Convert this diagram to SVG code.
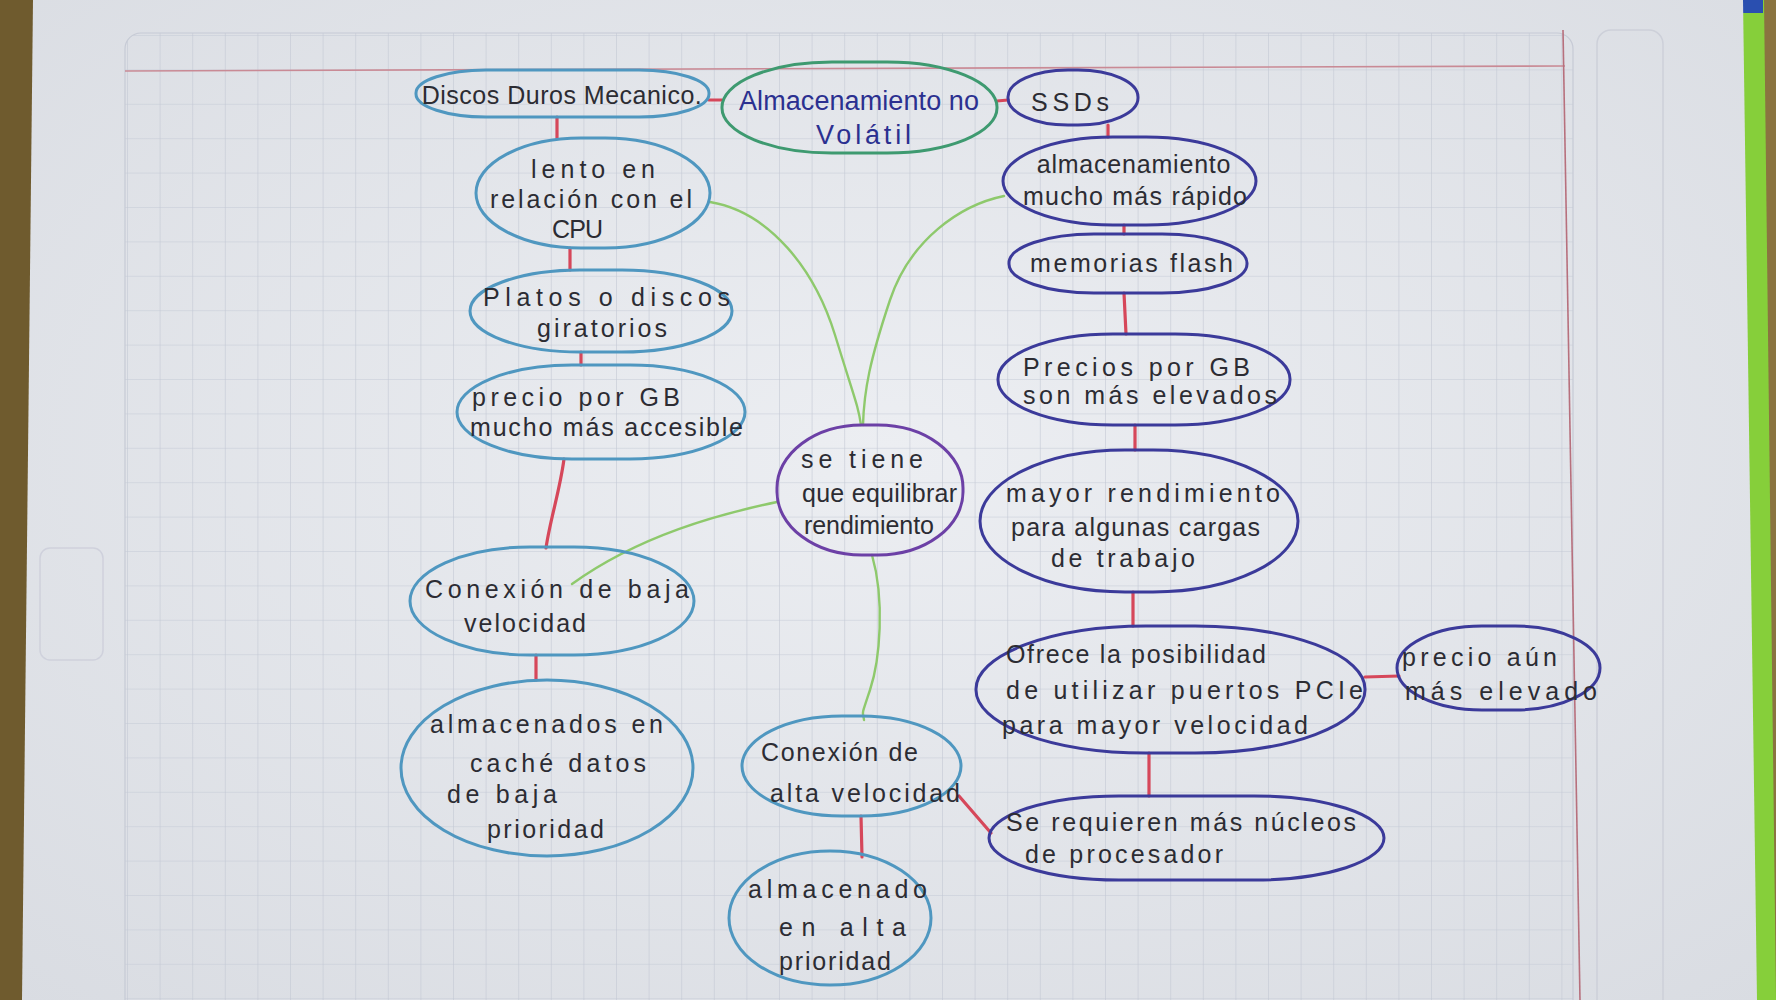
<svg xmlns="http://www.w3.org/2000/svg" width="1776" height="1000" viewBox="0 0 1776 1000">
<defs>
  <radialGradient id="paperGrad" cx="50%" cy="45%" r="75%">
    <stop offset="0" stop-color="#eceef2"/>
    <stop offset="1" stop-color="#d9dce2"/>
  </radialGradient>
  <pattern id="grid" x="127" y="35" width="32.6" height="34.4" patternUnits="userSpaceOnUse">
    <path d="M0,0 H32.6 M0,0 V34.4" fill="none" stroke="#c4c9d5" stroke-width="1.2"/>
  </pattern>
  <clipPath id="gridClip">
    <rect x="125" y="33" width="1448" height="990" rx="16"/>
  </clipPath>
</defs>
<style>
  .node { fill: none; stroke-width: 3; }
  .blue { stroke: #4f97c0; }
  .dblue { stroke: #3b3a9a; }
  .purple { stroke: #6c40a6; }
  .green { stroke: #3e9a70; }
  .red { stroke: #d6475a; stroke-width: 3.2; fill: none; stroke-linecap: round; }
  .lg { stroke: #8ec96c; stroke-width: 2.4; fill: none; stroke-linecap: round; }
  text { font-family: "Liberation Sans", "DejaVu Sans", sans-serif; fill: #2c2c33; font-size: 25px; }
  .title { fill: #2b3090; font-size: 27px; }
  .mid { text-anchor: middle; }
</style>

<!-- background: table, paper, grid -->
<rect x="0" y="0" width="1776" height="1000" fill="#6f5b2e"/>
<polygon points="1740,0 1776,0 1776,1000 1754,1000" fill="#86cf3a"/>
<rect x="1741" y="0" width="22" height="13" fill="#2a4fb0"/>
<polygon points="1764,0 1776,0 1776,1000" fill="#8a7440"/>
<polygon points="33,0 1743,0 1757,1000 22,1000" fill="url(#paperGrad)"/>
<rect x="125" y="33" width="1448" height="990" rx="16" fill="url(#grid)" clip-path="url(#gridClip)"/>
<rect x="125" y="33" width="1448" height="990" rx="16" fill="none" stroke="#c6cad5" stroke-width="1.2"/>
<line x1="125" y1="71" x2="1565" y2="66" stroke="#c98a95" stroke-width="1.6"/>
<line x1="1563" y1="30" x2="1580" y2="1000" stroke="#b7707d" stroke-width="1.6"/>
<rect x="1597" y="30" width="66" height="990" rx="14" fill="none" stroke="#cdd0d9" stroke-width="1.5"/>
<rect x="40" y="548" width="63" height="112" rx="10" fill="none" stroke="#cfd1dc" stroke-width="1.5"/>

<!-- connectors -->
<g id="connectors">
  <line class="red" x1="709" y1="100" x2="722" y2="100"/>
  <line class="red" x1="997" y1="101" x2="1008" y2="100"/>
  <line class="red" x1="557" y1="117" x2="557" y2="138"/>
  <line class="red" x1="570" y1="248" x2="570" y2="270"/>
  <line class="red" x1="581" y1="352" x2="581" y2="365"/>
  <path class="red" d="M564,459 C560,490 550,520 546,548"/>
  <line class="red" x1="536" y1="655" x2="536" y2="680"/>
  <line class="red" x1="1108" y1="125" x2="1108" y2="137"/>
  <line class="red" x1="1124" y1="225" x2="1124" y2="234"/>
  <line class="red" x1="1124" y1="293" x2="1126" y2="334"/>
  <line class="red" x1="1135" y1="425" x2="1135" y2="450"/>
  <line class="red" x1="1133" y1="592" x2="1133" y2="626"/>
  <line class="red" x1="1149" y1="753" x2="1149" y2="796"/>
  <line class="red" x1="1365" y1="677" x2="1399" y2="676"/>
  <line class="red" x1="959" y1="796" x2="991" y2="833"/>
  <line class="red" x1="861" y1="816" x2="862" y2="857"/>
  <path class="lg" d="M710,202 C770,212 815,270 835,335 S858,405 861,425"/>
  <path class="lg" d="M1004,196 C960,205 910,240 890,300 S864,390 863,425"/>
  <path class="lg" d="M777,502 C720,514 640,535 572,584"/>
  <path class="lg" d="M872,555 C885,600 880,660 870,690 S863,710 864,720"/>
</g>

<!-- nodes -->
<g id="discos">
  <rect class="node blue" x="416" y="70" width="293" height="47" rx="70" ry="23"/>
  <text class="mid" x="562" y="104" font-size="20" letter-spacing="0.5">Discos Duros Mecanico.</text>
</g>
<g id="almacenamiento">
  <rect class="node green" x="722" y="62" width="275" height="91" rx="110" ry="45"/>
  <text class="title" x="739" y="110" textLength="240">Almacenamiento no</text>
  <text class="title" x="816" y="144" textLength="95">Volátil</text>
</g>
<g id="ssds">
  <rect class="node dblue" x="1008" y="70" width="130" height="55" rx="60" ry="27"/>
  <text x="1031" y="111" font-size="30" textLength="78">SSDs</text>
</g>
<g id="lento">
  <rect class="node blue" x="476" y="138" width="234" height="110" rx="105" ry="55"/>
  <text x="531" y="178" textLength="124">lento en</text>
  <text x="490" y="208" textLength="202">relación con el</text>
  <text x="552" y="238" textLength="51">CPU</text>
</g>
<g id="platos">
  <rect class="node blue" x="470" y="270" width="262" height="82" rx="110" ry="41"/>
  <text x="483" y="306" font-size="28" textLength="247">Platos o discos</text>
  <text x="537" y="337" font-size="28" textLength="130">giratorios</text>
</g>
<g id="precio-gb">
  <rect class="node blue" x="457" y="365" width="288" height="94" rx="115" ry="47"/>
  <text x="472" y="406" textLength="208">precio por GB</text>
  <text x="470" y="436" textLength="273">mucho más accesible</text>
</g>
<g id="conexion-baja">
  <rect class="node blue" x="410" y="547" width="284" height="108" rx="120" ry="54"/>
  <text x="425" y="598" font-size="27" textLength="264">Conexión de baja</text>
  <text x="464" y="632" font-size="27" textLength="122">velocidad</text>
</g>
<g id="almacenados-cache">
  <ellipse class="node blue" cx="547" cy="768" rx="146" ry="88"/>
  <text x="430" y="733" textLength="233">almacenados en</text>
  <text x="470" y="772" textLength="176">caché datos</text>
  <text x="447" y="803" textLength="110">de baja</text>
  <text x="487" y="838" textLength="117">prioridad</text>
</g>
<g id="equilibrar">
  <rect class="node purple" x="777" y="425" width="186" height="130" rx="85" ry="63"/>
  <text x="801" y="468" font-size="22" textLength="122">se tiene</text>
  <text x="802" y="502" font-size="20" textLength="155">que equilibrar</text>
  <text x="804" y="534" font-size="20" textLength="130">rendimiento</text>
</g>
<g id="conexion-alta">
  <rect class="node blue" x="742" y="716" width="219" height="100" rx="100" ry="50"/>
  <text x="761" y="761" font-size="26" textLength="157">Conexión de</text>
  <text x="770" y="802" font-size="26" textLength="190">alta velocidad</text>
</g>
<g id="almacenado-alta">
  <ellipse class="node blue" cx="830" cy="918" rx="101" ry="67"/>
  <text x="748" y="898" font-size="26" textLength="179">almacenado</text>
  <text x="779" y="936" font-size="26" textLength="127">en alta</text>
  <text x="779" y="970" font-size="26" textLength="112">prioridad</text>
</g>
<g id="rapido">
  <rect class="node dblue" x="1003" y="137" width="253" height="88" rx="110" ry="44"/>
  <text class="mid" x="1134" y="173" font-size="22" letter-spacing="0.8">almacenamiento</text>
  <text x="1023" y="205" font-size="24" textLength="224">mucho más rápido</text>
</g>
<g id="flash">
  <rect class="node dblue" x="1009" y="234" width="238" height="59" rx="85" ry="29"/>
  <text x="1030" y="272" font-size="27" textLength="203">memorias flash</text>
</g>
<g id="precios-elevados">
  <rect class="node dblue" x="998" y="334" width="292" height="91" rx="115" ry="45"/>
  <text x="1023" y="376" font-size="26" textLength="227">Precios por GB</text>
  <text x="1023" y="404" font-size="26" textLength="254">son más elevados</text>
</g>
<g id="mayor-rendimiento">
  <rect class="node dblue" x="980" y="450" width="318" height="142" rx="145" ry="71"/>
  <text x="1006" y="502" textLength="274">mayor rendimiento</text>
  <text x="1011" y="536" textLength="249">para algunas cargas</text>
  <text x="1051" y="567" textLength="144">de trabajo</text>
</g>
<g id="pcie">
  <rect class="node dblue" x="976" y="626" width="389" height="127" rx="170" ry="63"/>
  <text x="1006" y="663" font-size="25" textLength="260">Ofrece la posibilidad</text>
  <text x="1006" y="699" font-size="26" textLength="357">de utilizar puertos PCIe</text>
  <text x="1002" y="734" font-size="26" textLength="306">para mayor velocidad</text>
</g>
<g id="precio-aun">
  <rect class="node dblue" x="1397" y="626" width="203" height="84" rx="85" ry="42"/>
  <text x="1402" y="666" textLength="155">precio aún</text>
  <text x="1405" y="700" textLength="192">más elevado</text>
</g>
<g id="nucleos">
  <rect class="node dblue" x="989" y="796" width="395" height="84" rx="130" ry="42"/>
  <text x="1006" y="831" textLength="350">Se requieren más núcleos</text>
  <text x="1025" y="863" textLength="198">de procesador</text>
</g>
</svg>
